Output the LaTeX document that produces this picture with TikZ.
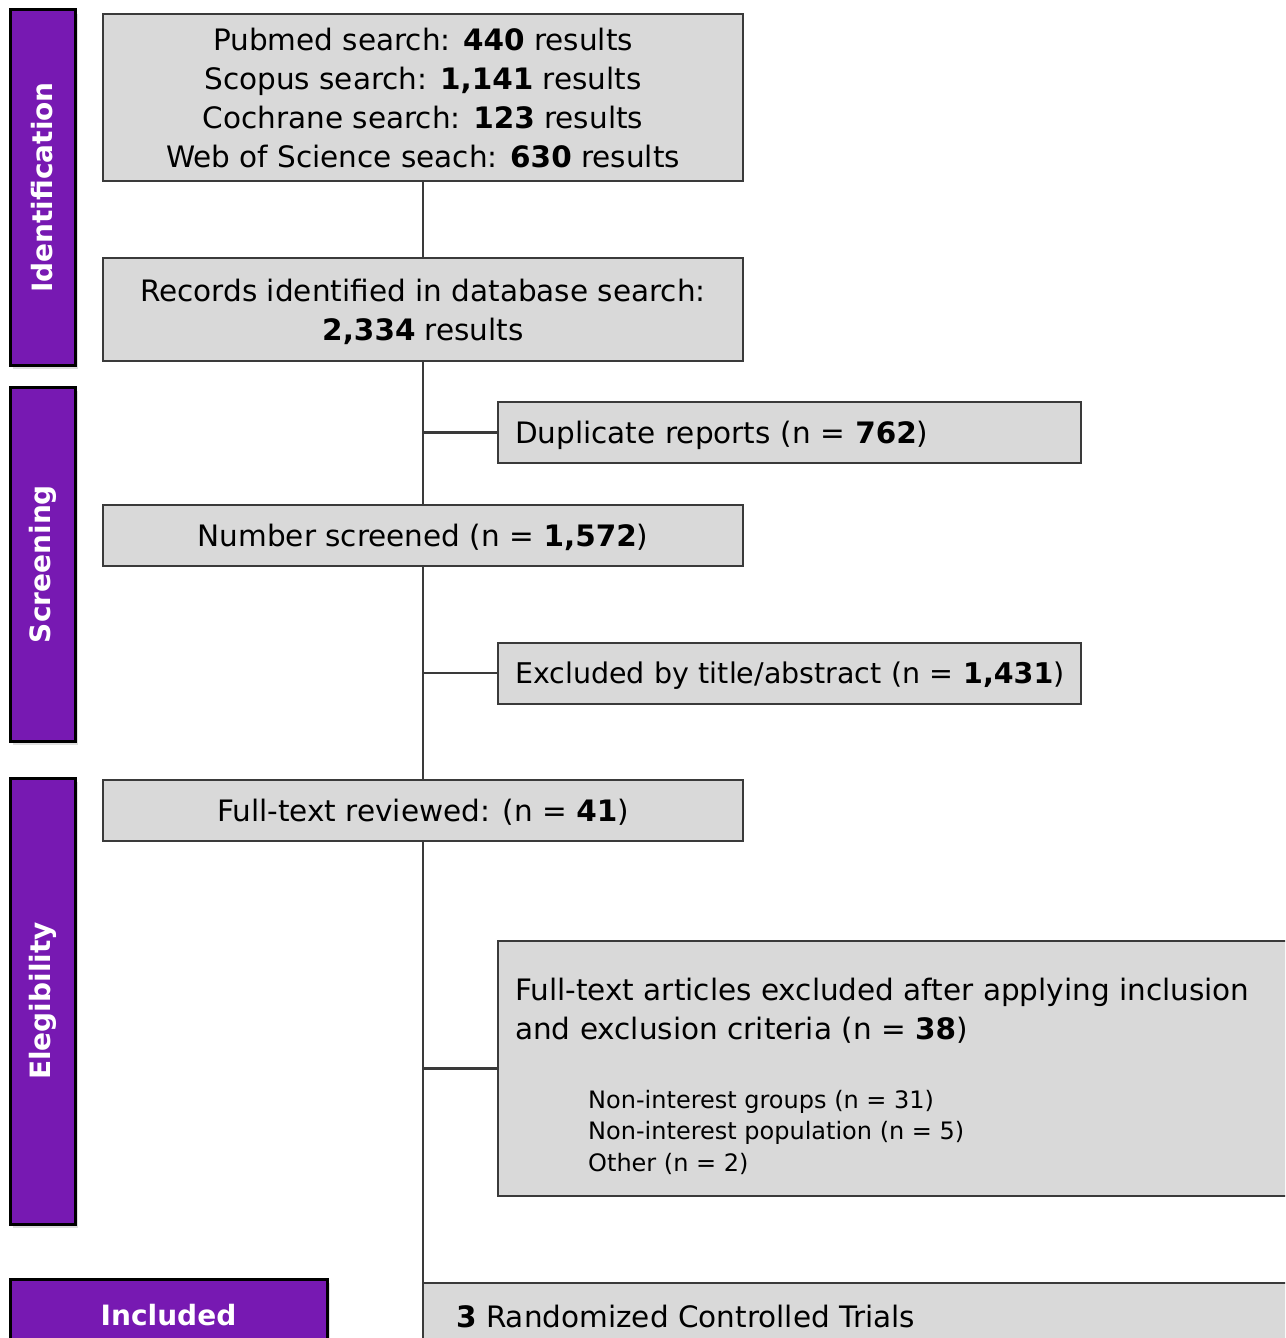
\documentclass[tikz,border=0pt]{standalone}
\usepackage{fontspec}
\setmainfont{DejaVu Sans}
\usetikzlibrary{shadows}
\definecolor{phasecol}{HTML}{7719B2}
\definecolor{boxgray}{HTML}{D9D9D9}
\definecolor{edgegray}{HTML}{3A3A3A}

\begin{document}
\begin{tikzpicture}[x=1pt,y=-1pt]
        \tikzstyle{phase}=[draw=black, line width=3pt, fill=phasecol, text=white, inner sep=0pt, font=\fontsize{28}{34}\selectfont\bfseries, drop shadow={shadow xshift=3pt, shadow yshift=-4pt, opacity=0.25}]
        \tikzstyle{stage}=[draw=edgegray, line width=2pt, fill=boxgray, inner sep=0pt, minimum width=640pt, font=\fontsize{29.5}{39}\selectfont, align=center]
        \tikzstyle{oneline}=[text depth=0pt, minimum height=61pt]
        \tikzstyle{side}=[stage, oneline, minimum width=0pt, inner xsep=17pt, text width=549pt, align=left]
        \tikzstyle{link}=[draw=edgegray, line width=2.5pt]
        \useasboundingbox (0,0) rectangle (1285,1338);
        \clip (0,0) rectangle (1285,1338);
        % phase bars
        \node[phase, rotate=90, minimum width=355pt, minimum height=65pt] (ident) at (42.5,187.5) {Identification};
        \node[phase, rotate=90, minimum width=354pt, minimum height=65pt] (screen) at (42.5,564) {Screening};
        \node[phase, rotate=90, minimum width=446pt, minimum height=65pt] (elig) at (42.5,1001) {Elegibility};
        \node[phase, minimum width=317pt, minimum height=90pt] (incl) at (168.5,1324) {};
        \node[text=white, font=\fontsize{28}{34}\selectfont\bfseries] (incltxt) at (168.5,1315) {Included};
        % flow boxes
        \node[stage, minimum height=167pt, text depth=0pt] (search) at (423,97.5) {Pubmed search: \textbf{440} results\\Scopus search: \textbf{1,141} results\\Cochrane search: \textbf{123} results\\Web of Science seach: \textbf{630} results};
        \node[stage, minimum height=103pt, text depth=0pt] (records) at (423,309.5) {Records identified in database search:\\\textbf{2,334} results};
        \node[side] (dup) at (789.5,432.5) {\mbox{Duplicate reports (n = \textbf{762})}};
        \node[stage, oneline] (scr) at (423,535.5) {Number screened (n = \textbf{1,572})};
        \node[side, font=\fontsize{28.5}{39}\selectfont] (title) at (789.5,673) {\mbox{Excluded by title/abstract (n = \textbf{1,431})}};
        \node[stage, oneline] (full) at (423,810.5) {Full-text reviewed: (n = \textbf{41})};
        \node[stage, minimum width=820pt, minimum height=255pt] (excl) at (908,1068.5) {};
        \node[anchor=north west, inner sep=0pt, align=left, font=\fontsize{29.5}{39}\selectfont] (excltxt) at (515,978) {Full-text articles excluded after applying inclusion\\and exclusion criteria (n = \textbf{38})};
        \node[anchor=north west, inner sep=0pt, align=left, font=\fontsize{24}{31.5}\selectfont] (reasons) at (588,1090) {Non-interest groups (n = 31)\\Non-interest population (n = 5)\\Other (n = 2)};
        \node[stage, minimum width=880pt, minimum height=90pt] (rct) at (863,1328) {};
        \node[anchor=west, inner sep=0pt, font=\fontsize{29.5}{39}\selectfont] (rcttxt) at (456,1316) {\textbf{3} Randomized Controlled Trials};
        % connectors
        \draw[link] (search.south) -- (records.north);
        \draw[link] (records.south) -- (scr.north);
        \draw[link] (scr.south) -- (full.north);
        \draw[link] (full.south) -- (full.south |- rct.north);
        \draw[link] (dup.west -| records.south) -- (dup.west);
        \draw[link] (title.west -| scr.south) -- (title.west);
        \draw[link] (excl.west -| full.south) -- (excl.west);
\end{tikzpicture}
\end{document}
